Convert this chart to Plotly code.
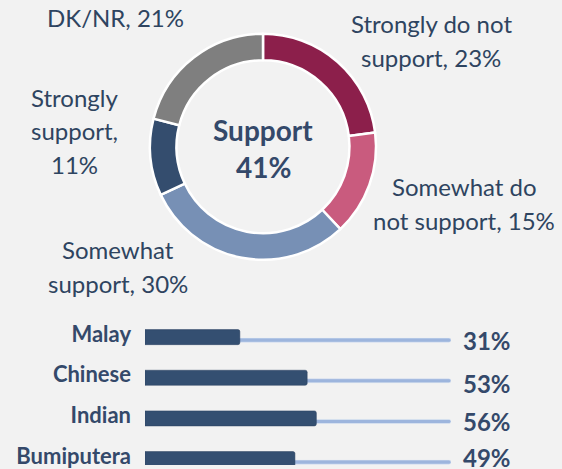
import plotly.graph_objects as go

# Donut data
donut_labels = ["Strongly do not support", "Somewhat do not support", "Somewhat support",
                "Strongly support", "DK/NR"]
donut_values = [23, 15, 30, 11, 21]
donut_colors = ["#8C1F4B", "#C95B7E", "#7790B5", "#344D6E", "#7F7F7F"]
donut_text_lines = [["Strongly do not", "support, 23%"], ["Somewhat do", "not support, 15%"],
                    ["Somewhat", "support, 30%"], ["Strongly", "support,", "11%"],
                    ["DK/NR, 21%"]]
center_text = ["Support", "41%"]

# Bar data
groups = ["Malay", "Chinese", "Indian", "Bumiputera"]
support = [31, 53, 56, 49]
track = [100, 100, 100, 100]
value_labels = ["31%", "53%", "56%", "49%"]

W, H = 562, 469
BG = "#F2F2F2"
TXT = "#2E4460"
BOLD = "#34496A"

fig = go.Figure()

fig.add_trace(go.Pie(
    labels=donut_labels, values=donut_values, sort=False, direction="clockwise",
    rotation=0, hole=0.765, textinfo="none", hoverinfo="label+percent",
    marker=dict(colors=donut_colors, line=dict(color="white", width=2.5)),
    domain=dict(x=[149 / W, 377 / W], y=[(H - 262) / H, (H - 34) / H]),
    showlegend=False,
))

fig.add_trace(go.Bar(
    y=groups, x=track, orientation="h", xaxis="x2", yaxis="y2",
    marker=dict(color="#9DB5DD"), width=0.1, offset=0.025, hoverinfo="skip",
    showlegend=False,
))
fig.add_trace(go.Bar(
    y=groups, x=support, orientation="h", xaxis="x2", yaxis="y2",
    marker=dict(color="#344F71", line=dict(color="#2A4160", width=0.5)),
    width=0.37, showlegend=False,
))

annotations = []
# donut labels: centre x, first line centre y, line spacing (px)
label_pos = [(431, 24), (464, 188), (118, 252), (75, 98), (115, 18)]
for lines, (px, py) in zip(donut_text_lines, label_pos):
    for i, t in enumerate(lines):
        annotations.append(dict(
            text=t, x=px / W, y=1 - (py + 34 * i) / H, xref="paper", yref="paper",
            xanchor="center", yanchor="middle", showarrow=False, align="center",
            font=dict(family="Lato", size=24, color=TXT),
        ))
for i, t in enumerate(center_text):
    annotations.append(dict(
        text=t, x=263 / W, y=1 - (131 + 37 * i) / H, xref="paper", yref="paper",
        xanchor="center", yanchor="middle", showarrow=False, align="center",
        font=dict(family="Lato", size=28, color=BOLD, weight="bold"),
    ))
value_shift = [-3, -6, -3, 2]
for g, v, s in zip(groups, value_labels, value_shift):
    annotations.append(dict(
        text=v, x=100, y=g, xref="x2", yref="y2", xanchor="left", yanchor="middle",
        xshift=10, yshift=s, showarrow=False,
        font=dict(family="Lato", size=24, color=BOLD, weight="bold"),
    ))

fig.update_layout(
    width=W, height=H, margin=dict(l=0, r=0, t=0, b=0),
    paper_bgcolor=BG, plot_bgcolor=BG,
    barmode="overlay", barcornerradius=2,
    xaxis2=dict(domain=[145 / W, 451 / W], range=[0, 100], visible=False,
                anchor="y2"),
    yaxis2=dict(domain=[0, (H - 319.5) / H], range=[3.146, -0.5], anchor="x2",
                type="category", showgrid=False, zeroline=False, showline=False,
                ticks="", ticklabelstandoff=13, ticklabelshift=3,
                tickfont=dict(family="Lato", size=22, color=BOLD, weight="bold")),
    annotations=annotations,
)

fig.write_html("out.html", config={"displayModeBar": False},
               post_script="document.body.style.margin='0';document.body.style.overflow='hidden';")
